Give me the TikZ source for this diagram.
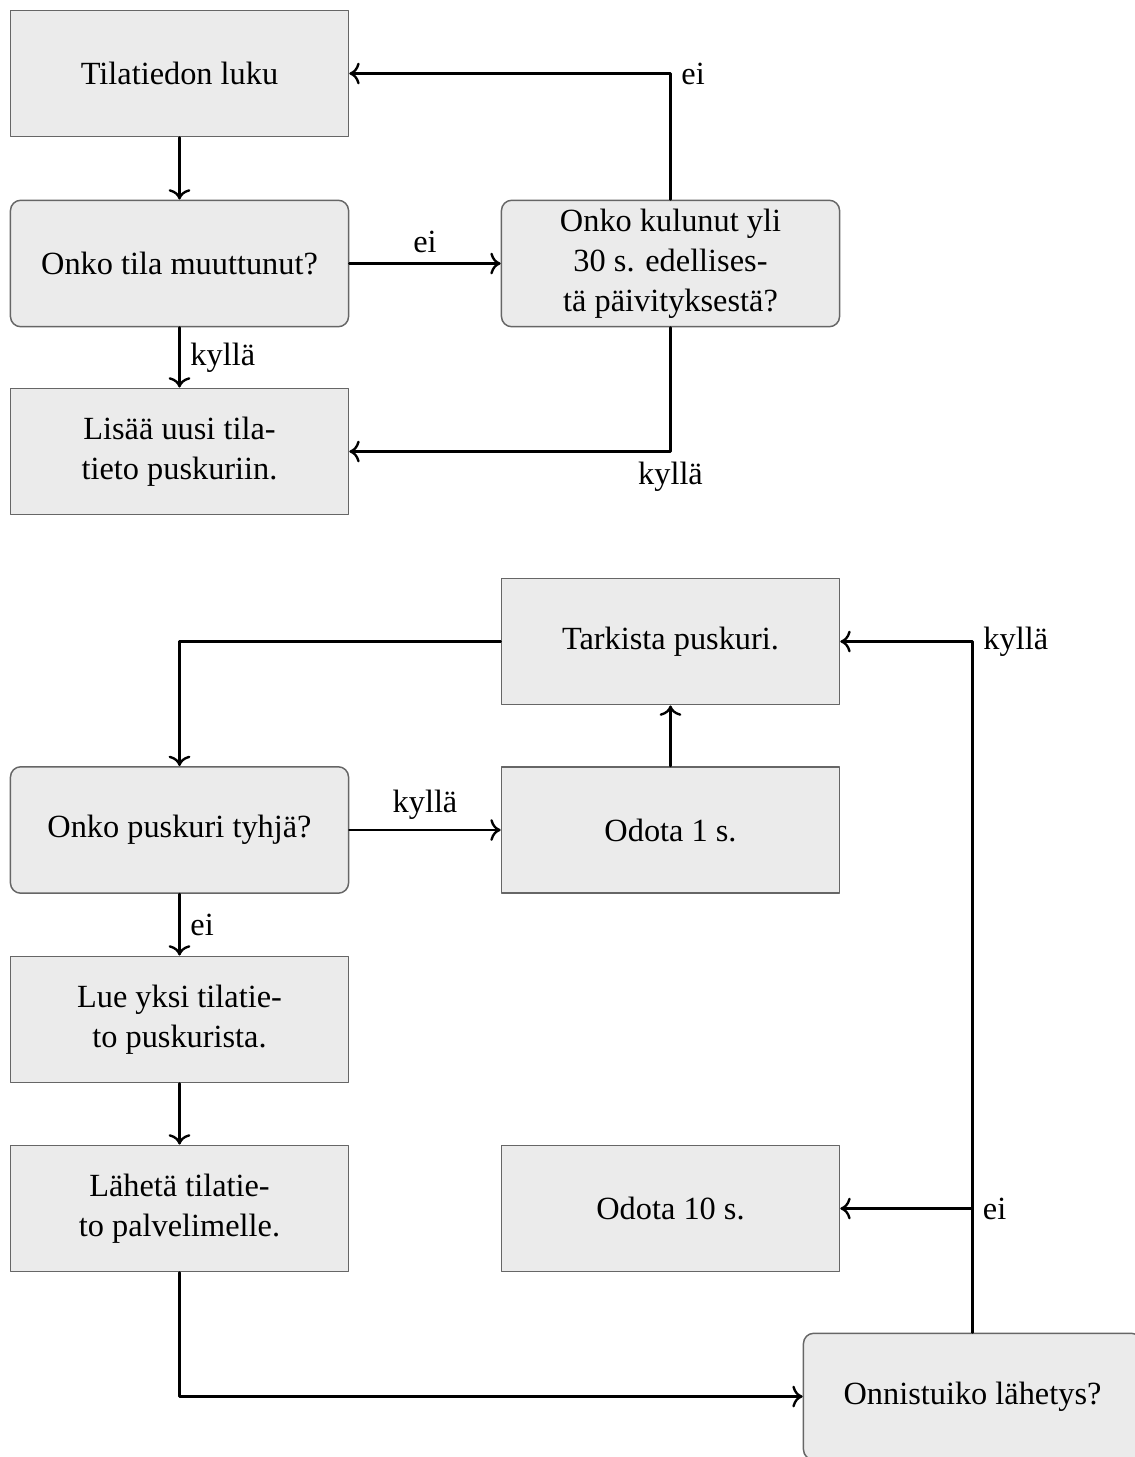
\documentclass[tikz,border=0pt]{standalone}
\usepackage{fontspec}
\setmainfont{Liberation Serif}
\usetikzlibrary{arrows.meta}

\begin{document}
\begin{tikzpicture}[x=0.3401pt,y=-0.3401pt,line cap=round,line join=round,
  vaihe/.style={draw=black!60,line width=0.5pt,fill=black!8,minimum width=115pt,minimum height=43pt,
    align=center,inner sep=2pt,font=\fontsize{11}{13.6}\selectfont},
  ehto/.style={vaihe,rounded corners=3.5pt},
  nuoli/.style={-{To[scale=1.05]},line width=0.8pt,black},
  teksti/.style={font=\fontsize{11}{13.6}\selectfont}]
\useasboundingbox (0,0) rectangle (1135,1457);
%ylempi kaavio
\node[vaihe] (luku) at (179.5,73.5) {Tilatiedon luku};
\node[ehto] (muutos) at (179.5,263.5) {Onko tila muuttunut?};
\node[vaihe] (lisaa) at (179.5,451.5) {Lisää uusi tila-\\tieto puskuriin.};
\node[ehto] (aika) at (670.5,263.5) {Onko kulunut yli\\30 s. edellises-\\tä päivityksestä?};
\draw[nuoli] (luku) -- (muutos);
\draw[nuoli] (muutos) -- node[teksti,above] {ei} (aika);
\draw[nuoli] (muutos) -- node[teksti,right] {kyllä} (lisaa);
\draw[nuoli] (aika.north) |- node[teksti,right,pos=0.5] {ei} (luku.east);
\draw[nuoli] (aika.south) |- node[teksti,below,pos=0.5] {kyllä} (lisaa.east);
%alempi kaavio
\node[vaihe] (tarkista) at (670.5,641.5) {Tarkista puskuri.};
\node[ehto] (tyhja) at (179.5,830) {Onko puskuri tyhjä?};
\node[vaihe] (odota1) at (670.5,830) {Odota 1 s.};
\node[vaihe] (lue) at (179.5,1019.5) {Lue yksi tilatie-\\to puskurista.};
\node[vaihe] (laheta) at (179.5,1208.5) {Lähetä tilatie-\\to palvelimelle.};
\node[vaihe] (odota10) at (670.5,1208.5) {Odota 10 s.};
\node[ehto] (onnistui) at (972.5,1396.5) {Onnistuiko lähetys?};
\coordinate (haara) at (onnistui.north |- odota10.east);
\draw[nuoli] (tarkista.west) -| (tyhja.north);
\draw[nuoli] (tyhja) -- node[teksti,above] {kyllä} (odota1);
\draw[nuoli] (odota1) -- (tarkista);
\draw[nuoli] (tyhja) -- node[teksti,right] {ei} (lue);
\draw[nuoli] (lue) -- (laheta);
\draw[nuoli] (laheta.south) |- (onnistui.west);
\draw[nuoli] (onnistui.north) |- node[teksti,right,pos=0.5] {kyllä} (tarkista.east);
\draw[nuoli] (haara) -- (odota10.east);
\node[teksti,right] (eilabel) at (haara) {ei};
\end{tikzpicture}
\end{document}
